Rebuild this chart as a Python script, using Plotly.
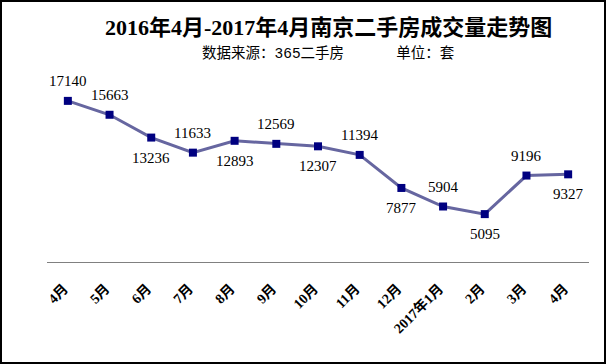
import plotly.graph_objects as go

months = ["4月", "5月", "6月", "7月", "8月", "9月", "10月", "11月", "12月", "2017年1月", "2月", "3月", "4月"]
volumes = [17140, 15663, 13236, 11633, 12893, 12569, 12307, 11394, 7877, 5904, 5095, 9196, 9327]
label_side = ["up", "up", "down", "up", "down", "up", "down", "up", "down", "up", "down", "up", "down"]

xs = list(range(len(months)))

W, H = 606, 364
ml, mr, mt, mb = 47, 17, 74, 102
pw, ph = W - ml - mr, H - mt - mb

fig = go.Figure()
fig.add_trace(go.Scatter(
    x=xs, y=volumes, mode="lines+markers",
    line=dict(color="#6666a0", width=3),
    marker=dict(symbol="square", size=8, color="#000080"),
    hoverinfo="skip", showlegend=False,
))

for x, v, s in zip(xs, volumes, label_side):
    fig.add_annotation(
        x=x, y=v, text=str(v), showarrow=False,
        yshift=20 if s == "up" else -20,
        font=dict(family="Liberation Serif, Times New Roman, serif", size=15, color="#000000"),
    )

serif_cjk = "Liberation Serif, Noto Sans CJK SC, serif"

fig.add_annotation(
    xref="paper", yref="paper", x=(328 - ml) / pw, y=1 + (mt - 27) / ph,
    text="<b>2016年4月-2017年4月南京二手房成交量走势图</b>", showarrow=False,
    font=dict(family=serif_cjk, size=22, color="#000000"), xanchor="center", yanchor="middle",
)
fig.add_annotation(
    xref="paper", yref="paper", x=(328 - ml) / pw, y=1 + (mt - 54) / ph,
    text="数据来源：365二手房\u00a0\u00a0\u00a0\u00a0\u00a0\u00a0单位：套", showarrow=False,
    font=dict(family="Liberation Mono, Noto Sans CJK SC, monospace", size=14.5, color="#000000"),
    xanchor="center", yanchor="middle",
)

# outer border
fig.add_shape(
    type="rect", xref="paper", yref="paper",
    x0=-(ml - 1) / pw, x1=1 + (mr - 1) / pw,
    y0=-(mb - 1) / ph, y1=1 + (mt - 1) / ph,
    line=dict(color="#000000", width=2), fillcolor="rgba(0,0,0,0)", layer="above",
)

fig.update_layout(
    width=W, height=H,
    margin=dict(l=ml, r=mr, t=mt, b=mb, pad=0),
    paper_bgcolor="white", plot_bgcolor="white",
    xaxis=dict(
        range=[-0.5, len(months) - 0.5], tickmode="array", tickvals=xs, ticktext=months,
        tickangle=-45, showgrid=False, zeroline=False,
        showline=True, linecolor="#808080", linewidth=1,
        ticks="", ticklabelstandoff=12, ticklabelshift=-4,
        tickfont=dict(family=serif_cjk, size=14, color="#000000", weight="bold"),
    ),
    yaxis=dict(range=[0, 20000], visible=False, showgrid=False, zeroline=False),
)

fig.write_html(
    "out.html",
    config={"displayModeBar": False},
    post_script="document.body.style.margin='0';document.body.style.overflow='hidden';",
)
